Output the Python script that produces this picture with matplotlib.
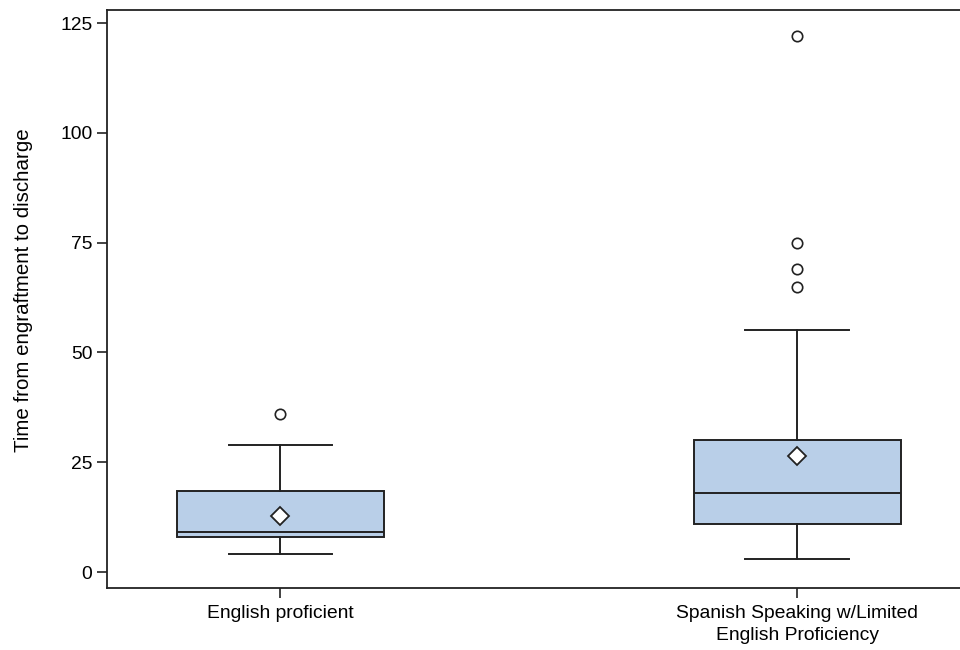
import matplotlib
matplotlib.use("Agg")
import matplotlib.pyplot as plt

plt.rcParams["font.family"] = ["Liberation Sans", "DejaVu Sans"]

# summary values
groups = ["English proficient", "Spanish Speaking w/Limited\nEnglish Proficiency"]
whisker_lo = [4, 3]
q1 = [8, 11]
median = [9, 18]
q3 = [18.5, 30]
whisker_hi = [29, 55]
means = [12.8, 26.3]
outliers = [[36], [65, 69, 75, 122]]

stats = []
for i in range(len(groups)):
    stats.append(dict(label=groups[i], whislo=whisker_lo[i], q1=q1[i], med=median[i],
                      q3=q3[i], whishi=whisker_hi[i], mean=means[i], fliers=outliers[i]))

fig = plt.figure(figsize=(9.6, 6.5), dpi=100)
ax = fig.add_axes([0.1115, 0.0954, 0.8885, 0.8892])

edge = "#222222"
ax.bxp(stats, positions=[1, 2], widths=0.4, capwidths=0.2, patch_artist=True,
       showmeans=True,
       boxprops=dict(facecolor="#b9cfe8", edgecolor=edge, linewidth=1.4),
       medianprops=dict(color=edge, linewidth=1.4),
       whiskerprops=dict(color=edge, linewidth=1.4),
       capprops=dict(color=edge, linewidth=1.4),
       meanprops=dict(marker="D", markerfacecolor="white", markeredgecolor=edge,
                      markersize=9, markeredgewidth=1.3),
       flierprops=dict(marker="o", markerfacecolor="white", markeredgecolor=edge,
                       markersize=7.5, markeredgewidth=1.2))

ax.set_xlim(0.665, 2.315)
ax.set_ylim(-3.64, 127.96)
ax.set_yticks([0, 25, 50, 75, 100, 125])
ax.set_ylabel("Time from engraftment to discharge", fontsize=14.8)
ax.yaxis.set_label_coords(-0.087, 0.515)
ax.tick_params(axis="both", labelsize=13.9, length=7, width=1.2, color=edge)
ax.tick_params(axis="x", pad=5)
for lbl in ax.get_xticklabels():
    lbl.set_linespacing(1.4)
ax.spines["right"].set_visible(False)
for s in ["left", "top", "bottom"]:
    ax.spines[s].set_linewidth(1.3)
    ax.spines[s].set_color(edge)

fig.savefig("out.png", dpi=100)
